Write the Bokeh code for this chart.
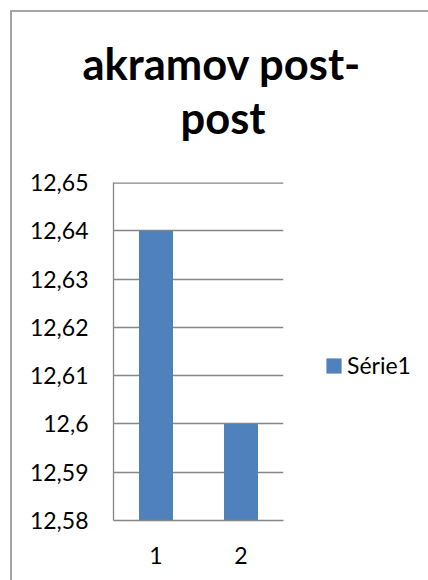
from bokeh.plotting import figure
from bokeh.models import FixedTicker, Legend, LegendItem, ColumnDataSource, Span, Title
from bokeh.embed import file_html
from bokeh.resources import INLINE

categories = ["1", "2"]
values = [12.64, 12.60]
series_name = "Série1"
title_lines = ["akramov post-", "post"]
y_ticks = [12.58, 12.59, 12.60, 12.61, 12.62, 12.63, 12.64, 12.65]
y_tick_labels = ["12,58", "12,59", "12,6", "12,61", "12,62", "12,63", "12,64", "12,65"]
y_min, y_max = 12.58, 12.65

FONT = "Lato"
GRAY = "#868686"
BLUE = "#4F81BD"

p = figure(x_range=categories, y_range=(y_min, y_max),
           width=416, height=568, output_backend="svg", toolbar_location=None,
           min_border_left=101, min_border_right=145, min_border_top=170, min_border_bottom=60,
           styles={"border-left": "2px solid #a6a6a6", "border-top": "2px solid #a6a6a6",
                   "margin-left": "10px", "margin-top": "10px"})
p.frame_width = 170
p.frame_height = 338

src = ColumnDataSource(dict(x=categories, top=values))
bars = p.vbar(x="x", top="top", bottom=y_min, width=0.4, source=src,
              fill_color=BLUE, line_color=None)

p.outline_line_color = None
p.background_fill_color = "white"
p.border_fill_color = "white"
p.xgrid.grid_line_color = None
p.ygrid.grid_line_color = GRAY
p.ygrid.grid_line_width = 1.3
p.ygrid.ticker = FixedTicker(ticks=y_ticks)
p.add_layout(Span(location=y_ticks[-1], dimension="width", line_color=GRAY, line_width=2.6))

p.yaxis.ticker = FixedTicker(ticks=y_ticks)
p.yaxis.major_label_overrides = {tk: lb for tk, lb in zip(y_ticks, y_tick_labels)}
for ax in (p.xaxis[0], p.yaxis[0]):
    ax.axis_line_color = GRAY
    ax.axis_line_width = 1.3
    ax.major_tick_in = 0
    ax.major_tick_out = 0
    ax.minor_tick_line_color = None
    ax.major_tick_line_color = None
    ax.major_label_text_font = FONT
    ax.major_label_text_font_size = "23px"
    ax.major_label_text_color = "black"
p.yaxis.major_label_standoff = 25
p.xaxis.major_label_standoff = 26

# title: spacer, then the two lines (stacked outward from the frame)
p.add_layout(Title(text=" ", text_font_size="1px", standoff=37), "above")
for txt, off in zip(reversed(title_lines), [67, -31]):
    p.add_layout(Title(text=txt, align="left", offset=off, standoff=0, vertical_align="bottom",
                       text_font=FONT, text_font_style="bold", text_font_size="43.5px",
                       text_color="black"), "above")

legend = Legend(items=[LegendItem(label=series_name, renderers=[bars])],
                location=(41, 141), orientation="vertical",
                padding=0, margin=0, border_line_color=None, background_fill_alpha=0,
                glyph_width=19, glyph_height=19, label_height=19, label_standoff=4,
                label_text_font=FONT, label_text_font_size="23px", label_text_color="black")
p.add_layout(legend, "right")

open("out.html", "w").write(file_html(p, INLINE))
